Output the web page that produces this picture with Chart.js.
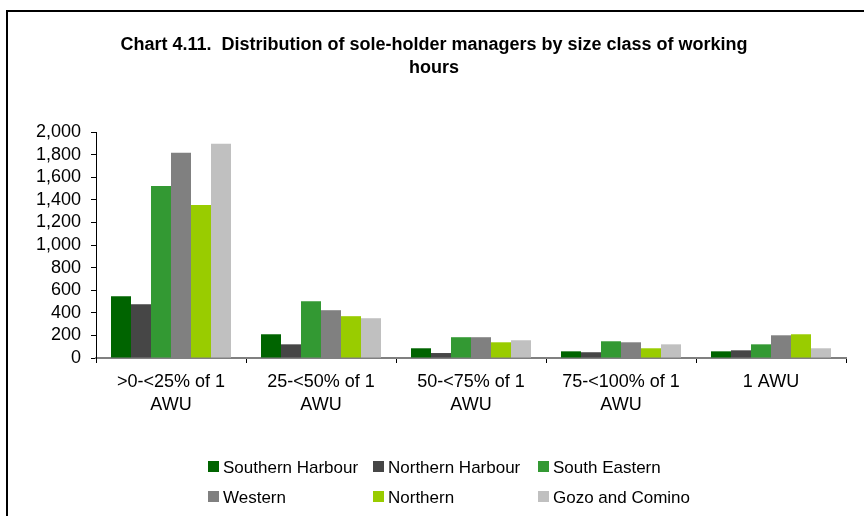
<!DOCTYPE html>
<html>
<head>
<meta charset="utf-8">
<script src="https://cdn.jsdelivr.net/npm/chart.js@4.4.1/dist/chart.umd.min.js"></script>
<style>
  html, body { margin: 0; padding: 0; background: #fff; }
  #wrap { position: relative; width: 864px; height: 516px; }
  canvas { display: block; }
</style>
</head>
<body>
<div id="wrap"><canvas id="chart" width="864" height="516"></canvas></div>
<script>
var categories = [['>0-<25% of 1', 'AWU'], ['25-<50% of 1', 'AWU'], ['50-<75% of 1', 'AWU'], ['75-<100% of 1', 'AWU'], '1 AWU'];
var regions = ['Southern Harbour', 'Northern Harbour', 'South Eastern', 'Western', 'Northern', 'Gozo and Comino'];
var southernHarbour = [547, 210, 86, 59, 59];
var northernHarbour = [476, 121, 44, 51, 68];
var southEastern = [1523, 503, 184, 148, 121];
var western = [1816, 423, 184, 139, 201];
var northern = [1355, 370, 139, 86, 210];
var gozoComino = [1896, 352, 157, 121, 86];
var yMax = 2000;
var yStep = 200;

var seriesValues = [southernHarbour, northernHarbour, southEastern, western, northern, gozoComino];
var colours = ['#006400', '#464646', '#339933', '#808080', '#99cc00', '#c0c0c0'];
var fontFamily = '"Liberation Sans", Arial, sans-serif';

// outer frame, title and the two-row legend laid out in fixed columns
var decorations = {
    id: 'decorations',
    afterDraw: function (chart) {
        var c = chart.ctx;
        c.save();
        c.strokeStyle = '#000';
        c.lineWidth = 2;
        c.beginPath();
        c.moveTo(7, 516);
        c.lineTo(7, 11);
        c.lineTo(864, 11);
        c.stroke();

        c.fillStyle = '#000';
        c.textAlign = 'center';
        c.textBaseline = 'middle';
        c.font = 'bold 18px ' + fontFamily;
        c.fillText('Chart 4.11.  Distribution of sole-holder managers by size class of working', 434, 45);
        c.fillText('hours', 434, 68);

        var cols = [208, 373, 538];
        var rows = [467, 497];
        c.textAlign = 'left';
        c.font = '17px ' + fontFamily;
        chart.data.datasets.forEach(function (ds, i) {
            var x = cols[i % 3];
            var y = rows[Math.floor(i / 3)];
            c.fillStyle = ds.backgroundColor;
            c.fillRect(x, y - 6, 11, 11);
            c.fillStyle = '#000';
            c.fillText(ds.label, x + 15, y + 1);
        });
        c.restore();
    }
};

var ctx = document.getElementById('chart').getContext('2d');
var chart = new Chart(ctx, {
    type: 'bar',
    data: {
        labels: categories,
        datasets: regions.map(function (name, i) {
            return {
                label: name,
                data: seriesValues[i],
                backgroundColor: colours[i],
                borderWidth: 0,
                categoryPercentage: 0.8,
                barPercentage: 1.0
            };
        })
    },
    options: {
        responsive: false,
        animation: false,
        layout: { padding: { left: 8, right: 18, top: 132, bottom: 80 } },
        plugins: {
            legend: { display: false },
            title: { display: false },
            tooltip: { enabled: false }
        },
        scales: {
            x: {
                grid: { drawOnChartArea: false, drawTicks: true, tickLength: 5, color: '#000', offset: true },
                border: { display: true, color: '#808080', width: 2 },
                ticks: {
                    color: '#000',
                    font: { family: fontFamily, size: 18, lineHeight: 1.27 },
                    maxRotation: 0,
                    autoSkip: false,
                    padding: 8
                },
                afterFit: function (scale) { scale.height = 78; }
            },
            y: {
                min: 0,
                max: yMax,
                grid: { drawOnChartArea: false, drawTicks: true, tickLength: 5, color: '#000' },
                border: { display: true, color: '#000', width: 1 },
                ticks: {
                    stepSize: yStep,
                    autoSkip: false,
                    color: '#000',
                    padding: 10,
                    font: { family: fontFamily, size: 18, lineHeight: 1 },
                    callback: function (v) { return v.toLocaleString('en-US'); }
                },
                afterFit: function (scale) { scale.width = 88; }
            }
        }
    },
    plugins: [decorations]
});
</script>
</body>
</html>
